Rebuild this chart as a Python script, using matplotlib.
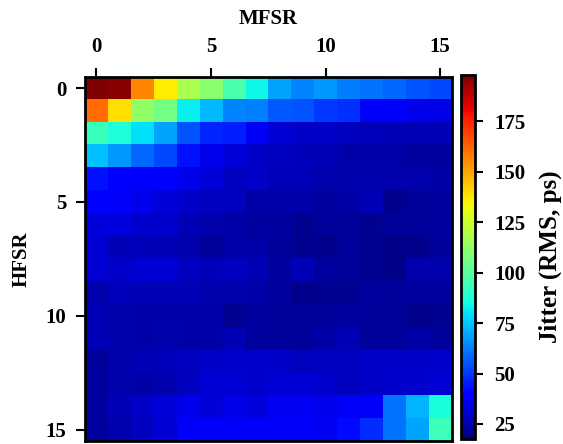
import numpy as np
import matplotlib
matplotlib.use('Agg')
import matplotlib.pyplot as plt

plt.rcParams.update({'font.family': 'Liberation Serif', 'font.weight': 'bold'})

mfsr = np.arange(16)
hfsr = np.arange(16)
ticks = [0, 5, 10, 15]
cbar_ticks = [25, 50, 75, 100, 125, 150, 175]

# RMS jitter (ps), rows = HFSR, columns = MFSR
jitter = np.array([
    [198, 196, 156, 136, 118, 111, 97, 84, 69, 64, 67, 62, 61, 59, 55, 53],
    [161, 139, 112, 106, 83, 73, 64, 63, 56, 55, 50, 49, 37, 37, 35, 34],
    [93, 87, 80, 69, 55, 47, 45, 36, 31, 29, 29, 28, 27, 26, 26, 26],
    [74, 67, 59, 53, 43, 35, 32, 29, 28, 27, 26, 24, 24, 24, 23, 23],
    [43, 40, 38, 38, 35, 32, 28, 29, 27, 26, 25, 25, 25, 25, 25, 24],
    [39, 37, 35, 32, 29, 28, 28, 24, 24, 24, 23, 24, 26, 20, 22, 23],
    [32, 33, 30, 30, 26, 25, 24, 23, 23, 21, 22, 22, 21, 22, 22, 23],
    [31, 26, 27, 26, 25, 22, 24, 24, 22, 21, 20, 22, 21, 19, 20, 22],
    [31, 29, 31, 31, 28, 27, 28, 26, 23, 26, 23, 22, 21, 19, 25, 25],
    [25, 27, 26, 26, 26, 25, 25, 24, 23, 20, 21, 21, 23, 22, 23, 23],
    [26, 25, 24, 24, 24, 24, 21, 23, 22, 22, 22, 23, 22, 22, 20, 21],
    [26, 25, 24, 25, 24, 24, 26, 23, 22, 22, 24, 26, 22, 22, 24, 22],
    [22, 25, 26, 27, 28, 29, 30, 30, 29, 28, 28, 28, 29, 29, 29, 30],
    [23, 25, 24, 25, 28, 31, 31, 30, 31, 31, 30, 28, 29, 30, 30, 31],
    [23, 26, 29, 32, 35, 32, 34, 32, 36, 36, 35, 37, 37, 61, 72, 86],
    [23, 25, 28, 31, 37, 37, 37, 37, 37, 37, 36, 42, 48, 61, 69, 94],
])

fig = plt.figure(figsize=(5.63, 4.44), dpi=100)
ax = fig.add_axes([0.151, 0.0068, 0.651, 0.8205])
cax = fig.add_axes([0.819, 0.011, 0.025, 0.820])

im = ax.imshow(jitter, cmap='jet', aspect='auto', interpolation='nearest',
               vmin=17.5, vmax=198)

ax.xaxis.tick_top()
ax.xaxis.set_label_position('top')
ax.set_xticks(ticks)
ax.set_yticks(ticks)
ax.set_xlabel('MFSR', fontsize=15, fontweight='bold', labelpad=9)
ax.set_ylabel('HFSR', fontsize=15, fontweight='bold', labelpad=10)
ax.tick_params(labelsize=15, width=1.5, length=6.5)
ax.tick_params(axis='x', pad=8)
ax.tick_params(axis='y', pad=7)
for s in ax.spines.values():
    s.set_linewidth(2)

cb = fig.colorbar(im, cax=cax, ticks=cbar_ticks)
cb.outline.set_linewidth(2)
cb.ax.tick_params(labelsize=15, width=1.5, length=6, pad=8)
cb.set_label('Jitter (RMS, ps)', fontsize=18, fontweight='bold', labelpad=9)

plt.savefig('out.png', dpi=100)
